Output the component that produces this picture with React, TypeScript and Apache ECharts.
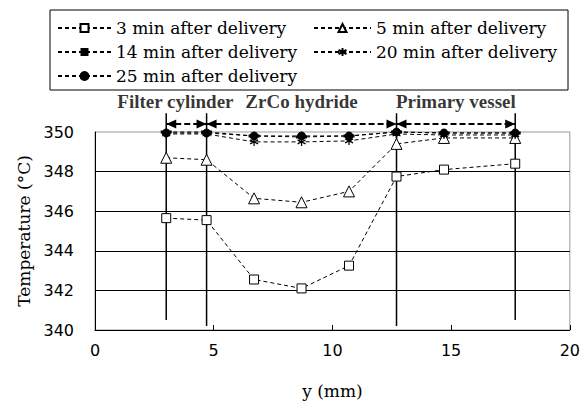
import React, { useEffect, useRef } from "react";
import * as echarts from "echarts";

// ---- data ----
const positions = [3, 4.7, 6.7, 8.7, 10.7, 12.7, 14.7, 17.7];
const min3 = [345.65, 345.55, 342.55, 342.1, 343.25, 347.75, 348.1, 348.4];
const min5 = [348.7, 348.6, 346.65, 346.45, 347.0, 349.4, 349.7, 349.7];
const min14 = [350.0, 350.0, 349.8, 349.75, 349.8, 350.0, 349.95, 349.95];
const min20 = [349.9, 349.9, 349.5, 349.5, 349.55, 349.9, 349.85, 349.85];
const min25 = [349.95, 349.95, 349.8, 349.8, 349.8, 350.0, 349.95, 349.95];
const seriesNames = [
  "3 min after delivery",
  "5 min after delivery",
  "14 min after delivery",
  "20 min after delivery",
  "25 min after delivery",
];
const boundaries = [3, 4.7, 12.7, 17.7];
const boundaryBottoms = [340.5, 340.2, 340.2, 340.5];
const boundaryTop = 350.95;
const arrowLevel = 350.4;
const componentNames = ["Filter cylinder", "ZrCo hydride", "Primary vessel"];
const labelShift = [-11, 0, 0];
const xName = "y (mm)";
const yName = "Temperature (°C)";

const ASTERISK = "path://M5,0L5,10M0.7,2.5L9.3,7.5M0.7,7.5L9.3,2.5";

export default function App() {
  const ref = useRef<HTMLDivElement>(null);
  useEffect(() => {
    document.body.style.margin = "0";
    const chart = echarts.init(ref.current!, null, { renderer: "svg" });
    const dash = [4, 3];
    const pts = (v: number[]) => positions.map((x, i) => [x, v[i]]);
    const base = (name: string, v: number[]) => ({
      name,
      type: "line",
      data: pts(v),
      clip: false,
      lineStyle: { color: "#000", width: 1, type: dash },
      z: 5,
    });
    const serif = "DejaVu Serif";
    const legendText = { fontFamily: serif, fontSize: 17, color: "#000", lineHeight: 20 };

    const boundarySeries = boundaries.map((b, i) => ({
      name: "boundary" + i,
      type: "line",
      silent: true,
      clip: false,
      symbol: "none",
      data: [
        [b, boundaryBottoms[i]],
        [b, boundaryTop],
      ],
      lineStyle: { color: "#000", width: 1.5, type: "solid" },
      z: 3,
    }));

    const arrowSeries = componentNames.map((n, i) => ({
      name: "arrow" + i,
      type: "line",
      silent: true,
      clip: false,
      symbol: "triangle",
      symbolSize: [9, 10],
      data: [
        { value: [boundaries[i], arrowLevel], symbolRotate: 90, symbolOffset: [5, 0] },
        { value: [boundaries[i + 1], arrowLevel], symbolRotate: -90, symbolOffset: [-5, 0] },
      ],
      itemStyle: { color: "#000", borderWidth: 0 },
      lineStyle: { color: "#000", width: 2, type: [6, 3] },
      z: 6,
    }));

    const labelSeries = {
      name: "componentLabels",
      type: "scatter",
      silent: true,
      clip: false,
      symbolSize: 0,
      data: componentNames.map((n, i) => ({
        value: [(boundaries[i] + boundaries[i + 1]) / 2, arrowLevel],
        name: n,
        label: { offset: [labelShift[i], 0] },
      })),
      label: {
        show: true,
        position: "top",
        distance: 13,
        formatter: (p: any) => p.name,
        fontFamily: "Liberation Serif",
        fontWeight: "bold",
        fontSize: 19,
        color: "#000",
      },
      z: 7,
    };

    chart.setOption({
      animation: false,
      backgroundColor: "#fff",
      grid: { left: 95, right: 11, top: 132, bottom: 82, show: true, borderColor: "#999", borderWidth: 1 },
      graphic: [
        {
          type: "rect",
          z: 0,
          shape: { x: 50, y: 10, width: 518, height: 80 },
          style: { fill: "#fff", stroke: "#000", lineWidth: 1 },
        },
      ],
      legend: [
        {
          left: 57,
          top: 18,
          orient: "vertical",
          itemWidth: 53,
          itemHeight: 10,
          itemGap: 4,
          padding: 0,
          selectedMode: false,
          textStyle: legendText,
          data: [seriesNames[0], seriesNames[2], seriesNames[4]],
        },
        {
          left: 313,
          top: 18,
          orient: "vertical",
          itemWidth: 57,
          itemHeight: 10,
          itemGap: 4,
          padding: 0,
          selectedMode: false,
          textStyle: legendText,
          data: [seriesNames[1], seriesNames[3]],
        },
      ],
      xAxis: {
        type: "value",
        min: 0,
        max: 20,
        interval: 5,
        name: xName,
        nameLocation: "middle",
        nameGap: 52,
        nameTextStyle: { fontFamily: serif, fontSize: 17, color: "#000" },
        axisLine: { lineStyle: { color: "#000", width: 1 } },
        axisTick: { show: true, inside: true, length: 5, lineStyle: { color: "#000" } },
        splitLine: { show: false },
        axisLabel: { margin: 12, fontFamily: "DejaVu Sans", fontSize: 16, color: "#000" },
      },
      yAxis: {
        type: "value",
        min: 340,
        max: 350,
        interval: 2,
        name: yName,
        nameLocation: "middle",
        nameRotate: 90,
        nameGap: 62,
        nameTextStyle: { fontFamily: serif, fontSize: 17, color: "#000" },
        axisLine: { show: true, lineStyle: { color: "#000", width: 1 } },
        axisTick: { show: false },
        splitLine: { show: true, showMaxLine: false, showMinLine: false, lineStyle: { color: "#000", width: 1 } },
        axisLabel: { margin: 21, fontFamily: "DejaVu Sans", fontSize: 16, color: "#000" },
      },
      series: [
        {
          ...base(seriesNames[0], min3),
          symbol: "rect",
          symbolSize: 9,
          itemStyle: { color: "#fff", borderColor: "#000", borderWidth: 1 },
        },
        {
          ...base(seriesNames[1], min5),
          symbol: "triangle",
          symbolSize: 11,
          itemStyle: { color: "#fff", borderColor: "#000", borderWidth: 1 },
        },
        {
          ...base(seriesNames[2], min14),
          symbol: "rect",
          symbolSize: [11, 3],
          itemStyle: { color: "#000", borderColor: "#000", borderWidth: 0 },
        },
        {
          ...base(seriesNames[3], min20),
          symbol: ASTERISK,
          symbolSize: 8,
          itemStyle: { color: "none", borderColor: "#000", borderWidth: 1.2 },
        },
        {
          ...base(seriesNames[4], min25),
          symbol: "circle",
          symbolSize: 8,
          itemStyle: { color: "#000", borderColor: "#000", borderWidth: 1 },
        },
        ...boundarySeries,
        ...arrowSeries,
        labelSeries,
      ],
    });
    return () => chart.dispose();
  }, []);
  return <div ref={ref} style={{ width: 583, height: 412 }} />;
}
